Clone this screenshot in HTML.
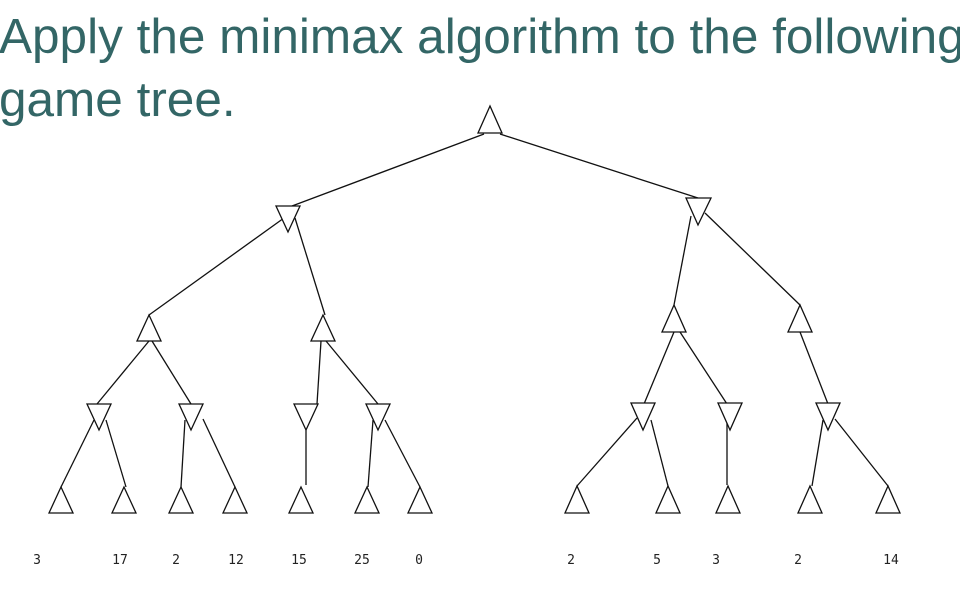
<!DOCTYPE html>
<html><head><style>
html,body{margin:0;padding:0;background:#fff;width:960px;height:597px;overflow:hidden}
svg{position:absolute;left:0;top:0}
</style></head><body>
<svg width="960" height="597" viewBox="0 0 960 597">
<text x="-1" y="53" font-family="Liberation Sans, sans-serif" font-size="49.5" fill="#336666">Apply the minimax algorithm to the following</text>
<text x="-1" y="116" font-family="Liberation Sans, sans-serif" font-size="49.5" fill="#336666">game tree.</text>
<g stroke="#111" stroke-width="1.3" fill="none">
<line x1="484" y1="134" x2="292" y2="206"/>
<line x1="500" y1="134" x2="698" y2="198"/>
<line x1="284" y1="218" x2="149" y2="315"/>
<line x1="295" y1="218" x2="325" y2="315"/>
<line x1="691" y1="216" x2="674" y2="305"/>
<line x1="705" y1="213" x2="800" y2="305"/>
<line x1="149" y1="341" x2="97" y2="404"/>
<line x1="152" y1="341" x2="191" y2="404"/>
<line x1="321" y1="341" x2="317" y2="404"/>
<line x1="326" y1="341" x2="378" y2="404"/>
<line x1="674" y1="332" x2="644" y2="404"/>
<line x1="680" y1="332" x2="727" y2="404"/>
<line x1="800" y1="332" x2="828" y2="404"/>
<line x1="94" y1="420" x2="61" y2="487"/>
<line x1="106" y1="420" x2="126" y2="487"/>
<line x1="185" y1="420" x2="181" y2="487"/>
<line x1="203" y1="419" x2="235" y2="487"/>
<line x1="306" y1="430" x2="306" y2="485"/>
<line x1="373" y1="420" x2="368" y2="487"/>
<line x1="385" y1="420" x2="420" y2="487"/>
<line x1="637" y1="418" x2="577" y2="486"/>
<line x1="651" y1="420" x2="668" y2="486"/>
<line x1="727" y1="418" x2="727" y2="485"/>
<line x1="823" y1="420" x2="812" y2="486"/>
<line x1="835" y1="419" x2="888" y2="486"/>
</g>
<g stroke="#111" stroke-width="1.3" fill="#fff">
<polygon points="490,106 478,133 502,133"/>
<polygon points="149,315 137,341 161,341"/>
<polygon points="323,315 311,341 335,341"/>
<polygon points="674,305 662,332 686,332"/>
<polygon points="800,305 788,332 812,332"/>
<polygon points="276,206 300,206 288,232"/>
<polygon points="686,198 711,198 698,225"/>
<polygon points="87,404 111,404 99,430"/>
<polygon points="179,404 203,404 191,430"/>
<polygon points="294,404 318,404 306,430"/>
<polygon points="366,404 390,404 378,430"/>
<polygon points="631,403 655,403 643,430"/>
<polygon points="718,403 742,403 730,430"/>
<polygon points="816,403 840,403 828,430"/>
<polygon points="61,487 49,513 73,513"/>
<polygon points="124,487 112,513 136,513"/>
<polygon points="181,487 169,513 193,513"/>
<polygon points="235,487 223,513 247,513"/>
<polygon points="301,487 289,513 313,513"/>
<polygon points="367,487 355,513 379,513"/>
<polygon points="420,487 408,513 432,513"/>
<polygon points="577,486 565,513 589,513"/>
<polygon points="668,486 656,513 680,513"/>
<polygon points="728,486 716,513 740,513"/>
<polygon points="810,486 798,513 822,513"/>
<polygon points="888,486 876,513 900,513"/>
</g>
<g font-family="DejaVu Sans Mono, Liberation Mono, monospace" font-size="13" fill="#222" text-anchor="middle">
<text x="37" y="564">3</text>
<text x="120" y="564">17</text>
<text x="176" y="564">2</text>
<text x="236" y="564">12</text>
<text x="299" y="564">15</text>
<text x="362" y="564">25</text>
<text x="419" y="564">0</text>
<text x="571" y="564">2</text>
<text x="657" y="564">5</text>
<text x="716" y="564">3</text>
<text x="798" y="564">2</text>
<text x="891" y="564">14</text>
</g>
</svg>
</body></html>
